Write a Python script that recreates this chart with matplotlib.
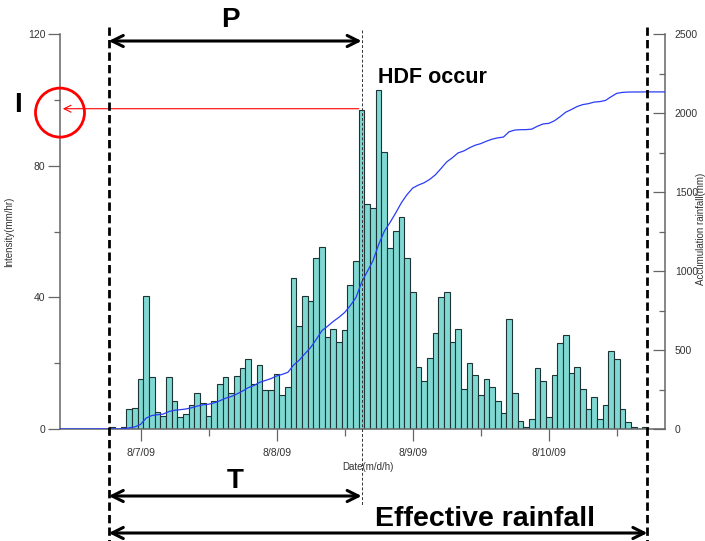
import numpy as np
import matplotlib
matplotlib.use("Agg")
import matplotlib.pyplot as plt
from matplotlib import transforms
from matplotlib.patches import Ellipse, FancyArrowPatch

plt.rcParams['font.family'] = ['Liberation Sans', 'DejaVu Sans']

# Hourly rainfall intensity (mm/hr); hour 0 = 8/7/09 00:00, first bar at 8/6 19:00
first_hour = -5
intensity = [
    0.5, 0.0, 0.5, 6.0, 6.4,
    15.3, 40.5, 15.9, 5.3, 4.0, 15.9, 8.4, 3.5, 4.5, 7.4, 10.8, 8.0,
    3.9, 8.4, 13.8, 15.9, 10.8, 16.1, 18.5, 21.4, 13.8, 19.5, 11.9, 11.9,
    16.8, 10.3, 12.9, 45.9, 31.4, 40.4, 39.0, 51.8, 55.4, 27.9, 30.4, 26.3,
    30.1, 43.6, 51.1, 97.0, 68.5, 67.1, 103.0, 84.2, 54.9, 60.2, 64.4, 51.9,
    41.5, 18.9, 14.5, 21.5, 29.1, 40.1, 41.5, 26.5, 30.4, 12.1, 20.0, 16.4,
    10.3, 15.3, 12.9, 8.4, 4.9, 33.5, 10.8, 2.4, 0.6, 2.9, 18.5, 14.5,
    3.5, 16.4, 26.0, 28.6, 16.9, 18.8, 12.2, 6.0, 9.8, 3.0, 7.4, 23.6,
    21.4, 6.1, 2.0, 0.5, 0.0, 0.5,
]
hours = np.arange(first_hour, first_hour + len(intensity))
accumulated = np.cumsum(intensity)

day_ticks = [0, 24, 48, 72]
day_labels = ["8/7/09", "8/8/09", "8/9/09", "8/10/09"]
half_day_ticks = [12, 36, 60, 84]

# event times (hours from 8/7 00:00)
rain_start = -5.6
hdf_time = 39.0
rain_end = 89.4
hdf_intensity = 97.3

x_min, x_max = -14.2, 92.5

W, H = 705, 541
fig = plt.figure(figsize=(W / 100, H / 100), dpi=100)
ax = fig.add_axes([60 / W, 1 - 429 / H, 605 / W, 395 / H])

ax.bar(hours, intensity, width=1.0, color="#7fd9d2", edgecolor="#1e3434",
       linewidth=0.8, zorder=2)

ax2 = ax.twinx()
ax2.plot(np.r_[x_min, hours, x_max], np.r_[0, accumulated, accumulated[-1]],
         color="#2a3cf5", lw=0.9, zorder=3)

gray = "#666666"
ax.set_xlim(x_min, x_max)
ax.set_ylim(0, 120)
ax2.set_ylim(0, 2500)

ax.set_xticks(day_ticks)
ax.set_xticklabels(day_labels)
ax.set_xticks(half_day_ticks, minor=True)
ax.set_yticks([0, 40, 80, 120])
ax.set_yticks([20, 60, 100], minor=True)
ax2.set_yticks([0, 500, 1000, 1500, 2000, 2500])
ax2.set_yticks([250, 750, 1250, 1750, 2250], minor=True)

for s in ["top", "right"]:
    ax.spines[s].set_visible(False)
for s in ["top", "left", "bottom"]:
    ax2.spines[s].set_visible(False)
for a in (ax, ax2):
    for s in a.spines.values():
        s.set_color(gray)
        s.set_linewidth(1.1)

ax.tick_params(axis="y", which="major", direction="out", length=8.6, width=0.9,
               color=gray, labelsize=7.5, labelcolor="#333333", pad=2)
ax.tick_params(axis="y", which="minor", direction="out", length=4.5, width=0.9,
               color=gray)
ax.tick_params(axis="x", which="major", direction="out", length=8.6, width=0.9,
               color=gray, labelsize=7.5, labelcolor="#333333", pad=5)
ax.tick_params(axis="x", which="minor", direction="out", length=5, width=0.9,
               color=gray)
ax2.tick_params(axis="y", which="major", direction="in", length=8.6, width=0.9,
                color=gray, labelsize=7.5, labelcolor="#333333", pad=7)
ax2.tick_params(axis="y", which="minor", direction="in", length=4.5, width=0.9,
                color=gray)

ax.set_ylabel("Intensity(mm/hr)", fontsize=7, color="#333333")
ax.yaxis.set_label_coords(-0.076, 0.5)
ax2.set_ylabel("Accumulation rainfall(mm)", fontsize=7, color="#333333",
               rotation=90)
ax2.yaxis.set_label_coords(1.052, 0.506)
fig.text(368 / W, 1 - 467 / H, "Date(m/d/h)", fontsize=7, color="#333333",
         ha="center", va="center")

# annotations: x in data hours, y in figure fraction
trans = transforms.blended_transform_factory(ax.transData, fig.transFigure)
fy = lambda py: 1 - py / H

for xv in (rain_start, rain_end):
    fig.add_artist(plt.Line2D([xv, xv], [fy(27), fy(541)], transform=trans,
                              color="black", lw=2, linestyle=(0, (3, 1.5))))
fig.add_artist(plt.Line2D([hdf_time, hdf_time], [fy(30), fy(506)], transform=trans,
                          color="#333333", lw=0.7, linestyle=(0, (3, 2))))

for x0, x1, py in [(rain_start, hdf_time, 41), (rain_start, hdf_time, 496),
                   (rain_start, rain_end, 533)]:
    fig.add_artist(FancyArrowPatch((x0, fy(py)), (x1, fy(py)), transform=trans,
                                   arrowstyle="<->", mutation_scale=20,
                                   lw=2.2, color="black", shrinkA=0, shrinkB=0))

mid_p = (rain_start + hdf_time) / 2
fig.text(mid_p - 0.8, fy(20), "P", transform=trans, fontsize=20, fontweight="bold",
         ha="center", va="center")
fig.text(mid_p, fy(481), "T", transform=trans, fontsize=20, fontweight="bold",
         ha="center", va="center")
fig.text(485 / W, fy(519), "Effective rainfall", fontsize=20.5, fontweight="bold",
         ha="center", va="center")
fig.text(18 / W, fy(105), "I", fontsize=20, fontweight="bold",
         ha="center", va="center")
ax.text(hdf_time + 2.8, 106.7, "HDF occur", fontsize=15.5, fontweight="bold",
        ha="left", va="center", clip_on=False)

# peak intensity pointer
ax.annotate("", xy=(x_min + 0.5, hdf_intensity),
            xytext=(hdf_time - 0.5, hdf_intensity),
            arrowprops=dict(arrowstyle="->,head_length=0.5,head_width=0.25",
                            color="red", lw=0.8, shrinkA=0, shrinkB=0),
            zorder=5, annotation_clip=False)
ax.add_patch(Ellipse((0, 0.801), 49 / 605, 49 / 395, transform=ax.transAxes,
                     fill=False, ec="red", lw=2, clip_on=False, zorder=6))

fig.savefig("out.png", dpi=100)
